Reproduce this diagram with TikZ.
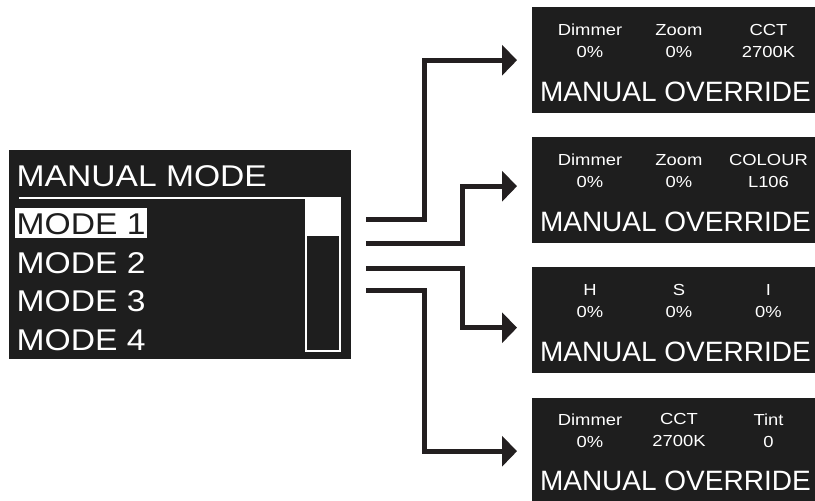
\documentclass[tikz,border=0pt]{standalone}
\usepackage{fontspec}
\usepackage{xcolor}
\usepackage{tikz}
\usetikzlibrary{arrows.meta}
\setmainfont{Liberation Sans}
\newfontfamily\menufont[FakeStretch=1.12]{Liberation Sans}
\newfontfamily\paramfont[FakeStretch=1.15]{Liberation Sans}
\definecolor{lcd}{RGB}{30,30,30}
\definecolor{wire}{RGB}{35,31,32}

\begin{document}
\begin{tikzpicture}[x=1pt, y=-1pt,
    screen/.style={rectangle, fill=lcd, inner sep=0pt, anchor=north west},
    menu/.style={text=white, inner sep=0pt, anchor=base west, font=\menufont\fontsize{30}{36}\selectfont},
    param/.style={text=white, inner sep=0pt, anchor=north, align=center, font=\paramfont\fontsize{16}{22}\selectfont},
    override/.style={text=white, inner sep=0pt, anchor=base west, font=\fontsize{28}{34}\selectfont},
    arrow/.style={draw=wire, line width=5pt, -{Triangle[length=15pt, width=30pt]}, shorten >=15pt}
]
    \useasboundingbox (0,0) rectangle (815,501);
    \clip (0,0) rectangle (815,501);

    % Menu screen
    \node[screen, minimum width=342pt, minimum height=209pt] (menu) at (9,150) {};
    \node[menu] (title) at (16.5,186) {MANUAL MODE};
    \draw[white, line width=2pt] (19,198) -- (305,198);
    \node[menu, fill=white, text=lcd, inner xsep=1.5pt, inner ysep=4pt, text height=22pt, text depth=0pt] (mode1) at (15,234.3) {MODE 1};
    \node[menu] (mode2) at (16.5,273.3) {MODE 2};
    \node[menu] (mode3) at (16.5,311.3) {MODE 3};
    \node[menu] (mode4) at (16.5,350) {MODE 4};

    % Scroll bar
    \fill[white] (305,197) rectangle (341,236);
    \draw[white, line width=2pt] (306,198) rectangle (340,351);

    % Override screens
    \node[screen, minimum width=283pt, minimum height=106pt] (out1) at (532,7) {};
    \node[param] at (590,23.8) {Dimmer\\0\%};
    \node[param] at (679,23.8) {Zoom\\0\%};
    \node[param] at (768.5,23.8) {CCT\\2700K};
    \node[override] at (539.8,101.7) {MANUAL OVERRIDE};

    \node[screen, minimum width=283pt, minimum height=106pt] (out2) at (532,137) {};
    \node[param] at (590,153.8) {Dimmer\\0\%};
    \node[param] at (679,153.8) {Zoom\\0\%};
    \node[param] at (768.5,153.8) {COLOUR\\L106};
    \node[override] at (539.8,231.7) {MANUAL OVERRIDE};

    \node[screen, minimum width=283pt, minimum height=106pt] (out3) at (532,267) {};
    \node[param] at (590,283.8) {H\\0\%};
    \node[param] at (679,283.8) {S\\0\%};
    \node[param] at (768.5,283.8) {I\\0\%};
    \node[override] at (539.8,361.7) {MANUAL OVERRIDE};

    \node[screen, minimum width=283pt, minimum height=103pt] (out4) at (532,398) {};
    \node[param] at (590,413.5) {Dimmer\\0\%};
    \node[param] at (679,413.5) {CCT\\2700K};
    \node[param] at (768.5,413.5) {Tint\\0};
    \node[override] at (539.8,490.5) {MANUAL OVERRIDE};

    % Wires
    \coordinate (m1) at (366,219.7);
    \coordinate (m2) at (366,243);
    \coordinate (m3) at (366,268);
    \coordinate (m4) at (366,290.7);

    \draw[arrow] (m1) -- ++(58,0) |- (out1.west);
    \draw[arrow] (m2) -- ++(96.5,0) |- ([yshift=4pt]out2.west);
    \draw[arrow] (m3) -- ++(96.5,0) |- ([yshift=-7.5pt]out3.west);
    \draw[arrow] (m4) -- ++(58,0) |- ([yshift=-1.5pt]out4.west);
\end{tikzpicture}
\end{document}
